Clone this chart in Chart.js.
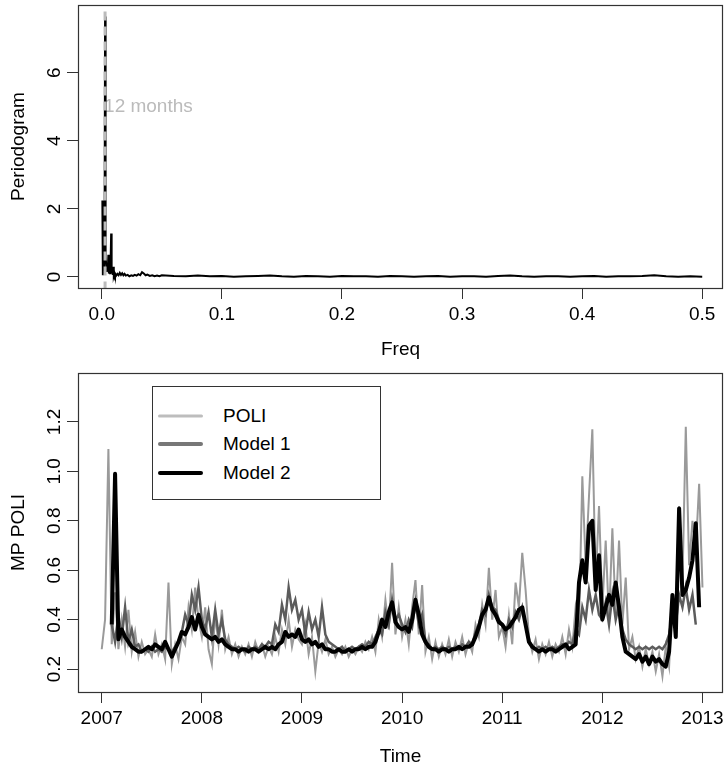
<!DOCTYPE html>
<html lang="en">
<head>
    <meta charset="UTF-8">
    <title>Periodogram and MP POLI</title>
    <script src="https://cdn.jsdelivr.net/npm/chart.js"></script>
    <style>
        body { margin: 0; background: #fff; font-family: "Liberation Sans", Arial, sans-serif; }
        #page { position: relative; width: 724px; height: 764px; overflow: hidden; }
        .panel { position: absolute; left: 0; }
        #legend { position: absolute; left: 152px; top: 386px; width: 229px; height: 114px;
                  border: 1px solid #333; background: #fff; box-sizing: border-box; }
        .row { position: absolute; left: 0; height: 24px; width: 100%; }
        .sw { position: absolute; left: 5px; width: 45px; top: 50%; transform: translateY(-50%); border-radius: 2px; }
        .lab { position: absolute; left: 70px; top: 0; line-height: 24px; font-size: 19px; color: #000; }
    </style>
</head>
<body>
<div id="page">
    <div class="panel" style="top:0"><canvas id="specChart" width="724" height="370"></canvas></div>
    <div class="panel" style="top:370px"><canvas id="seriesChart" width="724" height="394"></canvas></div>
    <div id="legend">
        <div class="row" style="top:17px"><div class="sw" style="height:3px;background:#bdbdbd"></div><span class="lab">POLI</span></div>
        <div class="row" style="top:45px"><div class="sw" style="height:4px;background:#777"></div><span class="lab">Model 1</span></div>
        <div class="row" style="top:74px"><div class="sw" style="height:4px;background:#000"></div><span class="lab">Model 2</span></div>
    </div>
</div>

<script>
    // periodogram
    const freq = [0.0005, 0.0009, 0.0014, 0.0018, 0.0023, 0.00274, 0.0032, 0.0037, 0.0041, 0.0046,
                  0.0050, 0.0055, 0.0059, 0.0064, 0.0068, 0.0073, 0.0078, 0.0082, 0.0087, 0.0091,
                  0.0096, 0.0100, 0.0105, 0.0110, 0.0114, 0.0120, 0.0130, 0.0140, 0.0150, 0.0160,
                  0.0170, 0.0180, 0.0190, 0.0200, 0.0215, 0.0230, 0.0245, 0.0260, 0.0275, 0.0290,
                  0.0305, 0.0320, 0.0335, 0.0350, 0.0365, 0.0380, 0.0400, 0.0420, 0.0440, 0.0460,
                  0.0480, 0.0500, 0.06, 0.07, 0.08, 0.09, 0.10, 0.11, 0.12, 0.13,
                  0.14, 0.15, 0.16, 0.17, 0.18, 0.19, 0.20, 0.21, 0.22, 0.23,
                  0.24, 0.25, 0.26, 0.27, 0.28, 0.29, 0.30, 0.31, 0.32, 0.33,
                  0.34, 0.35, 0.36, 0.37, 0.38, 0.39, 0.40, 0.41, 0.42, 0.43,
                  0.44, 0.45, 0.46, 0.47, 0.48, 0.49, 0.50];
    const spec = [2.25, 0.05, 0.45, 0.15, 0.90, 7.65, 0.60, 0.35, 0.15, 0.40,
                  0.20, 0.65, 0.10, 0.20, 0.08, 0.30, 1.28, 0.10, 0.25, 0.06,
                  0.30, 0.05, 0.12, 0.04, 0.08, 0.04, 0.09, 0.05, 0.12, 0.06,
                  0.11, 0.05, 0.09, 0.04, 0.06, 0.02, 0.05, 0.03, 0.06, 0.04,
                  0.08, 0.05, 0.14, 0.10, 0.05, 0.07, 0.03, 0.05, 0.02, 0.04,
                  0.02, 0.05, 0.03, 0.02, 0.04, 0.02, 0.03, 0.01, 0.02, 0.03,
                  0.04, 0.02, 0.01, 0.03, 0.02, 0.01, 0.03, 0.02, 0.02, 0.01,
                  0.03, 0.02, 0.01, 0.02, 0.03, 0.01, 0.02, 0.02, 0.01, 0.03,
                  0.04, 0.02, 0.01, 0.02, 0.02, 0.01, 0.02, 0.03, 0.01, 0.02,
                  0.02, 0.03, 0.05, 0.02, 0.01, 0.02, 0.01];
    const monthsAt = 1 / 365;
    const monthsLabel = '12 months';
    const specXTicks = [0, 0.1, 0.2, 0.3, 0.4, 0.5];
    const specYTicks = [0, 2, 4, 6];

    // MP POLI series, one value every 1/30 year from 2007.0
    const startYear = 2007;
    const stepYear = 1 / 30;
    const poli = [
        0.28,0.40,1.09,0.30,0.51,0.28,0.40,0.29,0.44,0.27, 0.35,0.25,0.31,0.26,0.28,0.25,0.34,0.26,0.30,0.24, 0.55,0.22,0.30,0.24,0.33,0.30,0.45,0.36,0.53,0.40,
        0.33,0.45,0.28,0.22,0.42,0.30,0.44,0.28,0.33,0.26, 0.30,0.25,0.29,0.26,0.30,0.25,0.31,0.27,0.30,0.25, 0.29,0.26,0.33,0.27,0.36,0.30,0.40,0.29,0.36,0.32,
        0.30,0.38,0.26,0.33,0.19,0.31,0.27,0.32,0.26,0.29, 0.25,0.28,0.26,0.29,0.25,0.28,0.26,0.29,0.27,0.31, 0.28,0.33,0.27,0.40,0.33,0.48,0.36,0.63,0.34,0.45,
        0.33,0.40,0.30,0.45,0.56,0.34,0.54,0.27,0.33,0.24, 0.31,0.25,0.30,0.26,0.32,0.25,0.31,0.27,0.33,0.26, 0.31,0.27,0.38,0.33,0.46,0.38,0.61,0.40,0.52,0.33,
        0.37,0.29,0.42,0.30,0.55,0.45,0.67,0.52,0.33,0.27, 0.32,0.24,0.30,0.26,0.31,0.25,0.30,0.27,0.33,0.26, 0.36,0.29,0.45,0.37,0.98,0.62,0.90,1.17,0.55,0.86,
        0.45,0.72,0.40,0.77,0.42,0.72,0.38,0.57,0.28,0.33, 0.24,0.29,0.21,0.28,0.22,0.27,0.19,0.26,0.17,0.29, 0.21,0.48,0.42,0.86,0.55,1.18,0.62,0.80,0.68,0.95,
        0.53];
    const model1 = [
        null,null,null,0.38,0.31,0.42,0.33,0.45,0.31,0.36, 0.29,0.30,0.27,0.28,0.27,0.29,0.27,0.28,0.27,0.29, 0.28,0.27,0.29,0.31,0.35,0.42,0.38,0.50,0.44,0.53,
        0.40,0.36,0.43,0.33,0.44,0.34,0.40,0.32,0.30,0.29, 0.28,0.29,0.28,0.27,0.29,0.28,0.29,0.28,0.30,0.29, 0.31,0.30,0.38,0.35,0.46,0.40,0.53,0.44,0.48,0.40,
        0.44,0.34,0.43,0.36,0.40,0.33,0.45,0.34,0.31,0.30, 0.29,0.28,0.29,0.27,0.28,0.29,0.28,0.29,0.30,0.29, 0.31,0.30,0.33,0.36,0.34,0.43,0.38,0.48,0.40,0.42,
        0.38,0.35,0.40,0.37,0.47,0.38,0.42,0.31,0.30,0.28, 0.29,0.28,0.29,0.28,0.29,0.28,0.29,0.28,0.30,0.29, 0.31,0.30,0.35,0.38,0.44,0.42,0.50,0.45,0.44,0.40,
        0.38,0.34,0.40,0.37,0.43,0.40,0.45,0.38,0.31,0.29, 0.28,0.29,0.28,0.29,0.28,0.29,0.28,0.29,0.30,0.29, 0.31,0.30,0.36,0.34,0.45,0.40,0.52,0.44,0.50,0.42,
        0.40,0.47,0.38,0.50,0.40,0.46,0.36,0.32,0.30,0.29, 0.28,0.29,0.28,0.29,0.28,0.29,0.28,0.29,0.28,0.30, 0.34,0.42,0.38,0.50,0.45,0.53,0.44,0.50,0.38,null,
        null];
    const model2 = [
        null,null,null,0.38,0.99,0.32,0.36,0.33,0.31,0.29, 0.28,0.27,0.27,0.28,0.29,0.28,0.30,0.29,0.28,0.31, 0.28,0.25,0.28,0.31,0.35,0.34,0.37,0.41,0.36,0.42,
        0.37,0.34,0.33,0.32,0.33,0.31,0.32,0.30,0.29,0.28, 0.28,0.27,0.28,0.28,0.27,0.28,0.28,0.27,0.28,0.29, 0.28,0.29,0.28,0.30,0.31,0.35,0.33,0.34,0.33,0.36,
        0.32,0.31,0.32,0.30,0.31,0.29,0.30,0.28,0.28,0.27, 0.27,0.28,0.27,0.27,0.28,0.27,0.28,0.28,0.29,0.28, 0.29,0.29,0.31,0.35,0.40,0.37,0.43,0.47,0.39,0.37,
        0.36,0.37,0.35,0.40,0.48,0.42,0.34,0.31,0.29,0.28, 0.28,0.27,0.28,0.28,0.27,0.28,0.28,0.29,0.28,0.29, 0.29,0.30,0.33,0.37,0.42,0.44,0.49,0.44,0.42,0.39,
        0.38,0.36,0.37,0.39,0.41,0.44,0.45,0.38,0.31,0.29, 0.28,0.27,0.28,0.27,0.28,0.28,0.27,0.28,0.29,0.30, 0.28,0.29,0.30,0.55,0.64,0.55,0.78,0.80,0.52,0.66,
        0.40,0.45,0.50,0.46,0.55,0.45,0.33,0.27,0.26,0.25, 0.24,0.26,0.23,0.25,0.22,0.25,0.23,0.24,0.22,0.21, 0.27,0.50,0.33,0.85,0.50,0.52,0.57,0.64,0.79,0.45,
        null];
    const timeXTicks = [2007, 2008, 2009, 2010, 2011, 2012, 2013];
    const timeYTicks = [0.2, 0.4, 0.6, 0.8, 1.0, 1.2];

    const FONT = { family: '"Liberation Sans", Arial, sans-serif', size: 19 };
    const AXIS_COL = '#333';

    // R-like box round the plot region
    const boxPlugin = {
        id: 'box',
        afterDatasetsDraw(chart) {
            const a = chart.chartArea, ctx = chart.ctx;
            ctx.save();
            ctx.strokeStyle = AXIS_COL;
            ctx.lineWidth = 1.2;
            ctx.strokeRect(Math.round(a.left) + 0.5, Math.round(a.top) + 0.5,
                           Math.round(a.right - a.left) - 1, Math.round(a.bottom - a.top));
            ctx.restore();
        }
    };

    const monthsPlugin = {
        id: 'months',
        beforeDatasetsDraw(chart) {
            const ctx = chart.ctx;
            ctx.save();
            ctx.font = FONT.size + 'px ' + FONT.family;
            ctx.fillStyle = '#bbbbbb';
            ctx.textAlign = 'left';
            ctx.textBaseline = 'middle';
            ctx.fillText(monthsLabel, chart.scales.x.getPixelForValue(monthsAt) - 1, chart.scales.y.getPixelForValue(5));
            ctx.restore();
        }
    };

    // no extra room for overhanging tick labels: the plot box is fixed
    function noPad(s) {
        s.paddingTop = 0; s.paddingBottom = 0; s.paddingLeft = 0; s.paddingRight = 0;
    }

    function axisX(min, max, ticks, fmt, title, titlePad, height) {
        return {
            type: 'linear', position: 'bottom', min: min, max: max,
            afterBuildTicks: s => { s.ticks = ticks.map(v => ({ value: v })); },
            afterFit: s => { s.height = height; noPad(s); },
            grid: { drawOnChartArea: false, drawTicks: true, tickLength: 11, color: AXIS_COL },
            border: { display: false },
            ticks: { font: FONT, color: '#000', padding: 4, maxRotation: 0, autoSkip: false, callback: fmt },
            title: { display: true, text: title, font: FONT, color: '#000', padding: { top: 0, bottom: titlePad } }
        };
    }

    function axisY(min, max, ticks, fmt, title, tickPad) {
        return {
            type: 'linear', min: min, max: max,
            afterBuildTicks: s => { s.ticks = ticks.map(v => ({ value: v })); },
            afterFit: s => { s.width = 78; noPad(s); },
            grid: { drawOnChartArea: false, drawTicks: true, tickLength: 11, color: AXIS_COL },
            border: { display: false },
            ticks: { font: FONT, color: '#000', padding: tickPad, minRotation: 90, maxRotation: 90,
                     crossAlign: 'center', autoSkip: false, callback: fmt },
            title: { display: true, text: title, font: FONT, color: '#000', padding: { top: 7, bottom: 0 } }
        };
    }

    Chart.defaults.animation = false;

    new Chart(document.getElementById('specChart'), {
        type: 'line',
        data: {
            datasets: [{
                label: monthsLabel,
                data: [{ x: monthsAt, y: -0.4 }, { x: monthsAt, y: 8.1 }],
                borderColor: '#bbbbbb', borderWidth: 3, borderDash: [9, 6],
                pointRadius: 0, order: 1
            }, {
                label: 'Periodogram',
                data: freq.map((f, i) => ({ x: f, y: spec[i] })),
                borderColor: '#000', borderWidth: 2, pointRadius: 0, tension: 0, order: 2
            }]
        },
        options: {
            responsive: false, devicePixelRatio: 1,
            layout: { padding: { top: 5, right: 1, left: 0, bottom: 0 } },
            plugins: { legend: { display: false }, tooltip: { enabled: false } },
            scales: {
                x: axisX(-0.0198, 0.5173, specXTicks, v => v.toFixed(1), 'Freq', 8.6, 82),
                y: axisY(-0.324, 7.99, specYTicks, v => String(v), 'Periodogram', 7.2)
            }
        },
        plugins: [boxPlugin, monthsPlugin]
    });

    const times = poli.map((_, i) => startYear + i * stepYear);
    const pts = arr => arr.map((v, i) => ({ x: times[i], y: v }));

    new Chart(document.getElementById('seriesChart'), {
        type: 'line',
        data: {
            datasets: [
                { label: 'POLI', data: pts(poli), borderColor: '#9a9a9a', borderWidth: 2, pointRadius: 0, tension: 0, order: 3 },
                { label: 'Model 1', data: pts(model1), borderColor: '#5c5c5c', borderWidth: 2.5, pointRadius: 0, tension: 0, order: 2 },
                { label: 'Model 2', data: pts(model2), borderColor: '#000', borderWidth: 4, pointRadius: 0, tension: 0, order: 1,
                  borderJoinStyle: 'round' }
            ]
        },
        options: {
            responsive: false, devicePixelRatio: 1,
            layout: { padding: { top: 3, right: 1, left: 0, bottom: 0 } },
            plugins: { legend: { display: false }, tooltip: { enabled: false } },
            scales: {
                x: axisX(2006.763, 2013.205, timeXTicks, v => String(v), 'Time', -4, 72),
                y: axisY(0.107, 1.398, timeYTicks, v => v.toFixed(1), 'MP POLI', -0.7)
            }
        },
        plugins: [boxPlugin]
    });
</script>
</body>
</html>
